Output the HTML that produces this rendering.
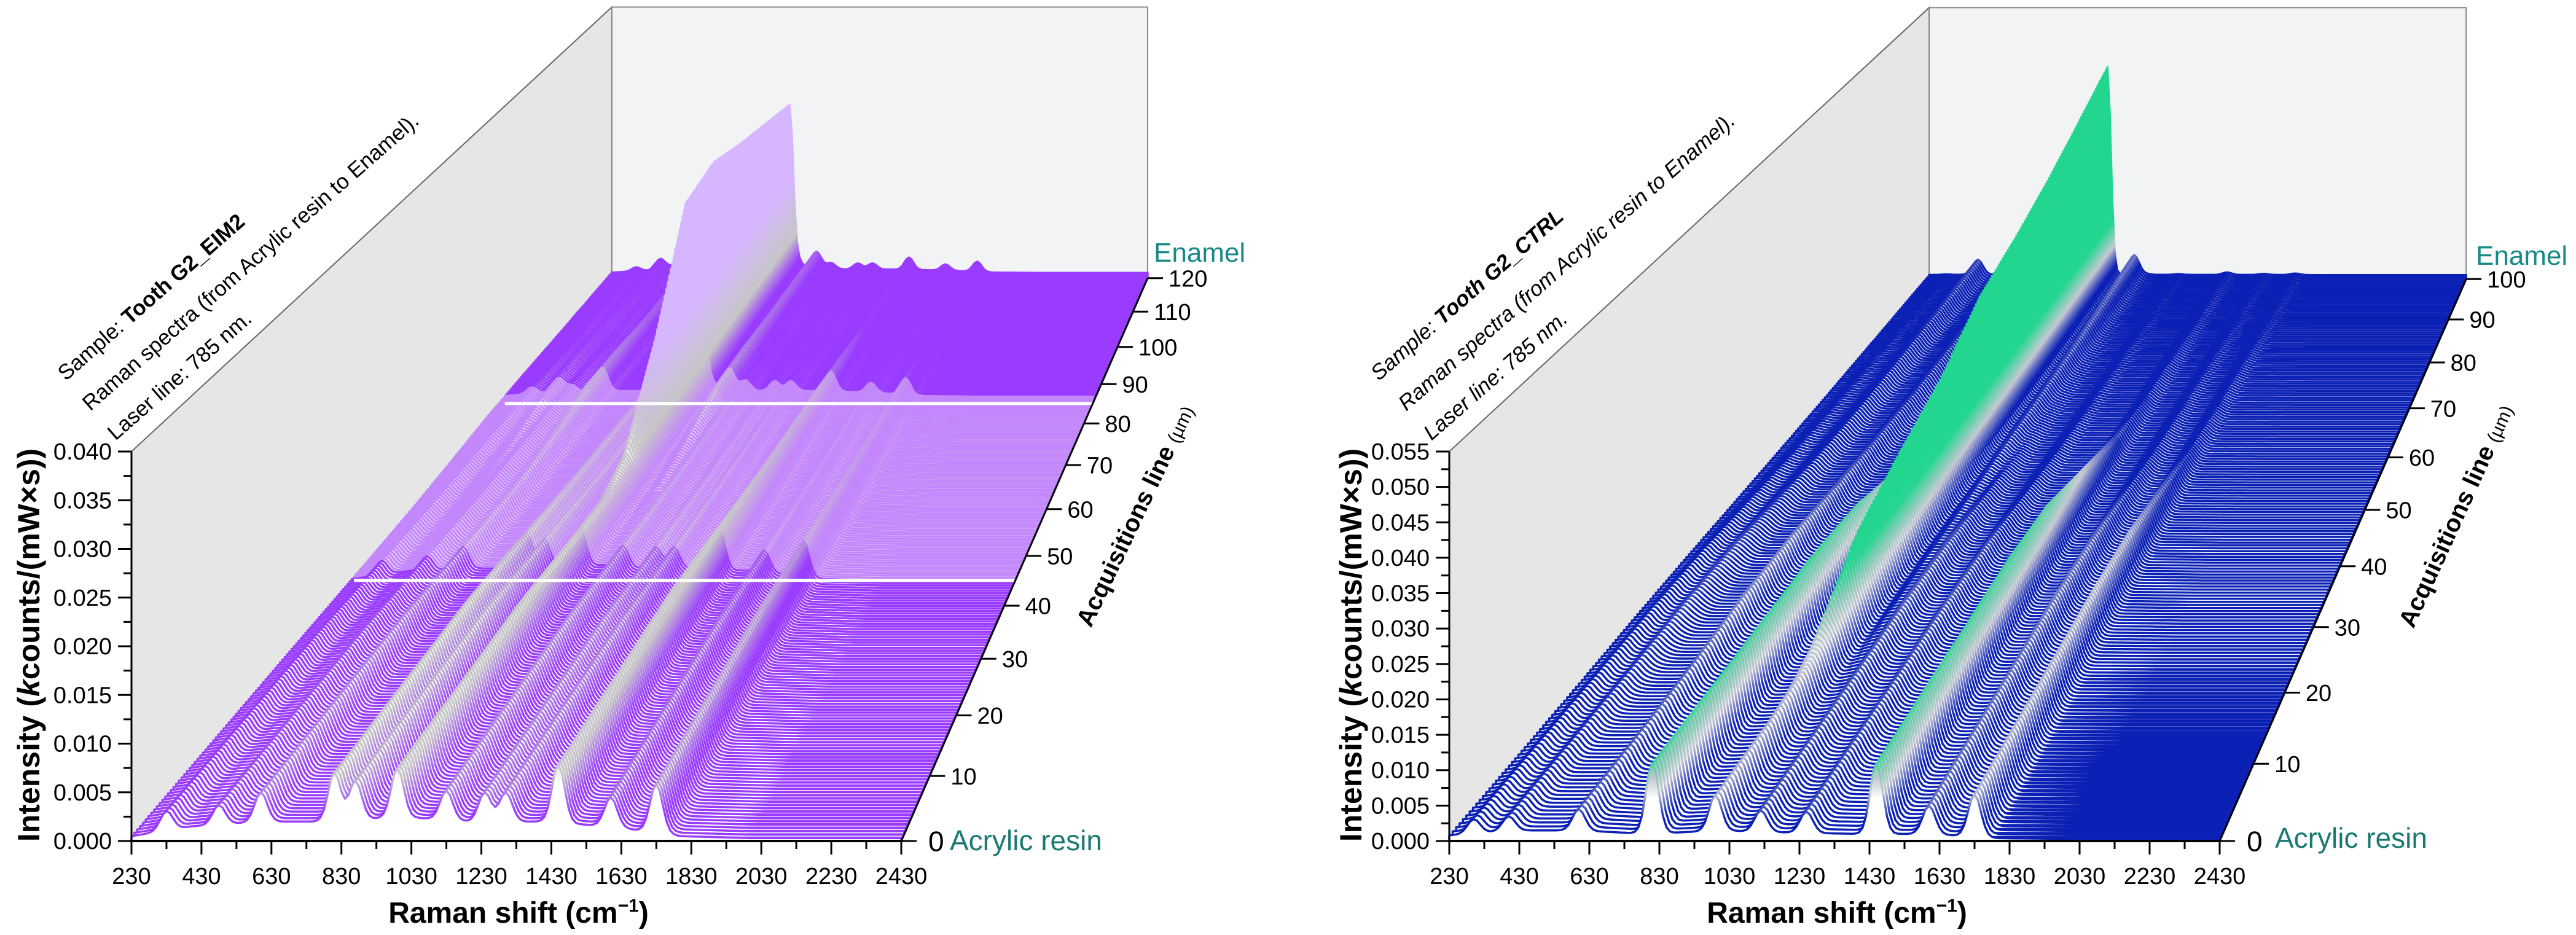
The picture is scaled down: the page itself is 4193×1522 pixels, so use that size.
<!DOCTYPE html>
<html><head><meta charset="utf-8"><style>
html,body{margin:0;padding:0;background:#fff;}
svg{display:block;font-family:"Liberation Sans",Arial,sans-serif;}
</style></head><body>
<svg id="fig" xmlns="http://www.w3.org/2000/svg" width="4193" height="1522" viewBox="0 0 4193 1522">
<defs id="defs"></defs>
<g id="leftChart"></g>
<g id="rightChart"></g>

<g font-size="35" fill="#000">
<text transform="translate(107,621) rotate(-41.2)">Sample: <tspan font-weight="bold">Tooth G2_EIM2</tspan></text>
<text transform="translate(147,670) rotate(-41.2)">Raman spectra (from Acrylic resin to Enamel).</text>
<text transform="translate(188,718) rotate(-41.2)">Laser line: 785 nm.</text>
</g>
<text transform="translate(64,1050) rotate(-90)" text-anchor="middle" font-size="50" font-weight="bold">Intensity (<tspan font-style="italic">k</tspan>counts/(mW×s))</text>
<text x="844" y="1502" text-anchor="middle" font-size="48" font-weight="bold">Raman shift (cm<tspan dy="-18" font-size="30">−1</tspan><tspan dy="18">)</tspan></text>
<text transform="translate(1860,845) rotate(-64.6)" text-anchor="middle" font-size="40" font-weight="bold">Acquisitions line <tspan font-weight="normal" font-size="30">(µm)</tspan></text>
<text x="1878" y="426" font-size="44" fill="#178a86">Enamel</text>
<text x="1546" y="1384" font-size="46" fill="#1a7a72">Acrylic resin</text>

<g font-size="35" font-style="italic" fill="#000">
<text transform="translate(2244,621) rotate(-41.2)">Sample: <tspan font-weight="bold">Tooth G2_CTRL</tspan></text>
<text transform="translate(2289,670) rotate(-41.2)">Raman spectra (from Acrylic resin to Enamel).</text>
<text transform="translate(2330,718) rotate(-41.2)">Laser line: 785 nm.</text>
</g>
<text transform="translate(2216,1050) rotate(-90)" text-anchor="middle" font-size="50" font-weight="bold">Intensity (<tspan font-style="italic">k</tspan>counts/(mW×s))</text>
<text x="2990" y="1502" text-anchor="middle" font-size="48" font-weight="bold">Raman shift (cm<tspan dy="-18" font-size="30">−1</tspan><tspan dy="18">)</tspan></text>
<text transform="translate(4010,845) rotate(-65.5)" text-anchor="middle" font-size="40" font-weight="bold">Acquisitions line <tspan font-weight="normal" font-size="30">(µm)</tspan></text>
<text x="4030" y="431" font-size="44" fill="#178a86">Enamel</text>
<text x="3703" y="1380" font-size="46" fill="#1a7a72">Acrylic resin</text>
</svg>
<script>
const NS = "http://www.w3.org/2000/svg";
const ramanStart = 230, ramanEnd = 2430, ramanStep = 10;
const xTickLabels = [230,430,630,830,1030,1230,1430,1630,1830,2030,2230,2430];

// ---- Left chart (EIM2) data ----
const leftYTicks = [0,0.005,0.010,0.015,0.020,0.025,0.030,0.035,0.040];
const leftDepthTicks = [0,10,20,30,40,50,60,70,80,90,100,110,120];
const leftResinPeakPos = [330,480,600,810,870,990,1130,1240,1300,1450,1600,1730];
const leftResinPeakHt  = [0.002,0.002,0.003,0.005,0.004,0.005,0.003,0.003,0.003,0.006,0.003,0.005];
const leftEnamelPeakPos = [430,590,960,1070];
const leftEnamelPeakHt  = [0.002,0.002,0.028,0.003];
const leftDepthKnots   = [0,10,20,30,40,50,60,70,80,90,100,110,120];
const leftResinWeight  = [1,1,1,1,0.9,0.8,0.7,0.6,0.5,0.4,0.3,0.3,0.3];
const leftEnamelWeight = [0,0,0,0,0.02,0.05,0.15,0.5,0.95,1,0.95,0.9,0.85];
const leftBaseR = [230,400,600,800,1000,1200,1400,1600,1800,2000,2430];
const leftBaseI = [0.0005,0.0015,0.002,0.002,0.0025,0.002,0.002,0.0015,0.0005,0.0003,0.0003];

// ---- Right chart (CTRL) data ----
const rightYTicks = [0,0.005,0.010,0.015,0.020,0.025,0.030,0.035,0.040,0.045,0.050,0.055];
const rightDepthTicks = [0,10,20,30,40,50,60,70,80,90,100];
const rightResinPeakPos = [300,400,600,810,990,1120,1250,1450,1600,1730];
const rightResinPeakHt  = [0.002,0.002,0.003,0.010,0.005,0.003,0.003,0.010,0.004,0.006];
const rightEnamelPeakPos = [430,590,960,1070];
const rightEnamelPeakHt  = [0.003,0.003,0.042,0.004];
const rightDepthKnots   = [0,10,20,30,40,50,60,70,80,90,100];
const rightResinWeight  = [1,1,1,1,0.9,0.6,0.3,0.15,0.1,0.05,0.05];
const rightEnamelWeight = [0,0,0.1,0.3,0.4,0.5,0.65,0.72,0.8,0.9,1];
const rightBaseR = [230,400,600,800,1000,1200,1400,1600,1800,2000,2430];
const rightBaseI = [0.0008,0.0015,0.0015,0.001,0.0015,0.0012,0.001,0.001,0.0004,0.0003,0.0003];

function interp(xs, ys, x){
  if (x <= xs[0]) return ys[0];
  for (let i=1;i<xs.length;i++){ if (x <= xs[i]) { const f=(x-xs[i-1])/(xs[i]-xs[i-1]); return ys[i-1]+f*(ys[i]-ys[i-1]); } }
  return ys[ys.length-1];
}
function gauss(r, p, h, sg){ return h*Math.exp(-0.5*((r-p)/sg)*((r-p)/sg)); }

function drawChart(g, cfg, D){
  const defs = document.getElementById('defs');
  const k = 1/cfg.sBack - 1;
  function proj(r, d, I){
    const t = d/cfg.dmax, s = 1/(1+k*t);
    const X0 = cfg.x0 + (r-ramanStart)/(ramanEnd-ramanStart)*(cfg.x1-cfg.x0);
    const Y0 = cfg.yBase - I/cfg.Imax*(cfg.yBase-cfg.yTop);
    return [cfg.xv + (X0-cfg.xv)*s, cfg.yv + (Y0-cfg.yv)*s];
  }
  function el(tag, attrs){ const e=document.createElementNS(NS,tag); for (const a in attrs) e.setAttribute(a, attrs[a]); return e; }
  const sw = [proj(230,0,0),proj(230,0,cfg.Imax),proj(230,cfg.dmax,cfg.Imax),proj(230,cfg.dmax,0)];
  const side = el('polygon',{points:sw.map(p=>p.join(',')).join(' '),fill:'#e6e6e6',stroke:'#666','stroke-width':2});
  
  
  g.appendChild(side);
  const bw = [proj(230,cfg.dmax,cfg.Imax),proj(2430,cfg.dmax,cfg.Imax),proj(2430,cfg.dmax,0),proj(230,cfg.dmax,0)];
  const back = el('polygon',{points:bw.map(p=>p.join(',')).join(' '),fill:'#f2f3f5',stroke:'#888','stroke-width':2});
  
  
  g.appendChild(back);
  const spectra = el('g',{});
  
  
  g.appendChild(spectra);
  let idx = 0;
  for (let d=cfg.dmax; d>=0; d-=cfg.dStep){
    idx++;
    const wr = interp(D.knots, D.resinW, d), we = interp(D.knots, D.enamelW, d);
    const pts = [proj(ramanStart,d,0)];
    for (let r=ramanStart; r<=ramanEnd; r+=ramanStep){
      let I = interp(D.baseR, D.baseI, r)*wr + 0.0008*we;
      for (let i=0;i<D.rp.length;i++) I += wr*gauss(r, D.rp[i], D.rh[i], 18);
      for (let i=0;i<D.ep.length;i++) I += we*gauss(r, D.ep[i], D.eh[i], D.ep[i]===960?14:20);
      pts.push(proj(r,d,I));
    }
    pts.push(proj(ramanEnd,d,0));
    const y0 = proj(1000,d,0)[1], yh = proj(1000,d,cfg.gradTop)[1];
    const inBand = cfg.band && d>=cfg.band[0] && d<=cfg.band[1];
    const base = inBand ? cfg.bandColor : cfg.baseColor;
    const gs = el('linearGradient',{id:cfg.id+'s'+idx,gradientUnits:'userSpaceOnUse',x1:0,y1:y0,x2:0,y2:yh});
    cfg.strokeStops(base).forEach(st=>gs.appendChild(el('stop',{offset:st[0],'stop-color':st[1]})));
    const gf = el('linearGradient',{id:cfg.id+'f'+idx,gradientUnits:'userSpaceOnUse',x1:0,y1:y0,x2:0,y2:yh});
    cfg.fillStops(inBand).forEach(st=>gf.appendChild(el('stop',{offset:st[0],'stop-color':st[1]})));
    defs.appendChild(gs); defs.appendChild(gf);
    const poly = el('polygon',{points:pts.map(p=>p[0].toFixed(1)+','+p[1].toFixed(1)).join(' '),fill:'url(#'+cfg.id+'f'+idx+')',stroke:'url(#'+cfg.id+'s'+idx+')','stroke-width':cfg.sw,'stroke-linejoin':'round'});
    
    
    spectra.appendChild(poly);
  }
  if (cfg.band){
    cfg.band.forEach(bd=>{
      const a=proj(230,bd,0), b=proj(2430,bd,0);
      const ln = el('line',{x1:a[0],y1:a[1],x2:b[0],y2:b[1],stroke:'#fff','stroke-width':5});
      
      
      g.appendChild(ln);
    });
  }
  const xa = el('line',{x1:cfg.x0-2,y1:cfg.yBase,x2:cfg.x1+2,y2:cfg.yBase,stroke:'#000','stroke-width':4});
  
  
  g.appendChild(xa);
  const ya = el('line',{x1:cfg.x0,y1:cfg.yBase,x2:cfg.x0,y2:cfg.yTop,stroke:'#000','stroke-width':3});
  
  
  g.appendChild(ya);
  const p0=proj(2430,0,0), p1=proj(2430,cfg.dmax,0);
  const za = el('line',{x1:p0[0],y1:p0[1],x2:p1[0],y2:p1[1],stroke:'#000','stroke-width':3});
  
  
  g.appendChild(za);
  const xs = v => cfg.x0 + (v-ramanStart)/(ramanEnd-ramanStart)*(cfg.x1-cfg.x0);
  xTickLabels.forEach(v=>{
    const x = xs(v);
    const tk = el('line',{x1:x,y1:cfg.yBase,x2:x,y2:cfg.yBase+22,stroke:'#000','stroke-width':3});
    
    
    g.appendChild(tk);
    if (v+100 < ramanEnd){
      const mx = xs(v+100);
      const mk = el('line',{x1:mx,y1:cfg.yBase,x2:mx,y2:cfg.yBase+13,stroke:'#000','stroke-width':3});
      
      
      g.appendChild(mk);
    }
    const t = el('text',{x:x,y:cfg.yBase+70,'text-anchor':'middle','font-size':38});
    t.textContent = v;
    
    
    g.appendChild(t);
  });
  const ys = v => cfg.yBase - v/cfg.Imax*(cfg.yBase-cfg.yTop);
  D.yTicks.forEach((v,i)=>{
    const y = ys(v);
    const tk = el('line',{x1:cfg.x0-22,y1:y,x2:cfg.x0,y2:y,stroke:'#000','stroke-width':3});
    
    
    g.appendChild(tk);
    if (i < D.yTicks.length-1){
      const my = ys(v+0.0025);
      const mk = el('line',{x1:cfg.x0-13,y1:my,x2:cfg.x0,y2:my,stroke:'#000','stroke-width':3});
      
      
      g.appendChild(mk);
    }
    const t = el('text',{x:cfg.x0-32,y:y+13,'text-anchor':'end','font-size':38});
    t.textContent = v.toFixed(3);
    
    
    g.appendChild(t);
  });
  D.dTicks.forEach(v=>{
    const p = proj(2430,v,0);
    const tk = el('line',{x1:p[0],y1:p[1],x2:p[0]+25,y2:p[1],stroke:'#000','stroke-width':3});
    
    
    g.appendChild(tk);
    const fs = v===0 ? 46 : 38;
    const t = el('text',{x:p[0]+(v===0?44:34),y:p[1]+fs*0.36,'font-size':fs});
    t.textContent = v;
    
    
    g.appendChild(t);
  });
}

drawChart(document.getElementById('leftChart'), {
  id:'L', x0:214, x1:1467, yBase:1369, yTop:735, Imax:0.040, dmax:120, dStep:0.5, sBack:0.696,
  xv:2786, yv:-1645, sw:3.5, gradTop:0.03, band:[45,85], baseColor:'#9a3cff', bandColor:'#c387fb',
  strokeStops: b=>[[0,b],[0.1,b],[0.22,'#c6c6c6'],[0.5,'#d6b6ff'],[1,'#d6b6ff']],
  fillStops: inB=>[[0,inB?'#e3c8fd':'#ffffff'],[0.2,'#ffffff'],[0.33,'#c8c8c8'],[0.6,'#d4b0ff'],[1,'#d4b0ff']]
}, {yTicks:leftYTicks, dTicks:leftDepthTicks, rp:leftResinPeakPos, rh:leftResinPeakHt, ep:leftEnamelPeakPos, eh:leftEnamelPeakHt,
    knots:leftDepthKnots, resinW:leftResinWeight, enamelW:leftEnamelWeight, baseR:leftBaseR, baseI:leftBaseI});

drawChart(document.getElementById('rightChart'), {
  id:'R', x0:2359, x1:3613, yBase:1369, yTop:735, Imax:0.055, dmax:100, dStep:0.5, sBack:0.697,
  xv:4937, yv:-1650, sw:3.5, gradTop:0.03, band:null, baseColor:'#0b20b4', bandColor:'#0b20b4',
  strokeStops: b=>[[0,b],[0.1,b],[0.23,'#c6c8d2'],[0.4,'#22d690'],[1,'#22d690']],
  fillStops: inB=>[[0,'#ffffff'],[0.2,'#ffffff'],[0.3,'#c2c6cc'],[0.45,'#22d690'],[1,'#22d690']]
}, {yTicks:rightYTicks, dTicks:rightDepthTicks, rp:rightResinPeakPos, rh:rightResinPeakHt, ep:rightEnamelPeakPos, eh:rightEnamelPeakHt,
    knots:rightDepthKnots, resinW:rightResinWeight, enamelW:rightEnamelWeight, baseR:rightBaseR, baseI:rightBaseI});
</script>
</body></html>
